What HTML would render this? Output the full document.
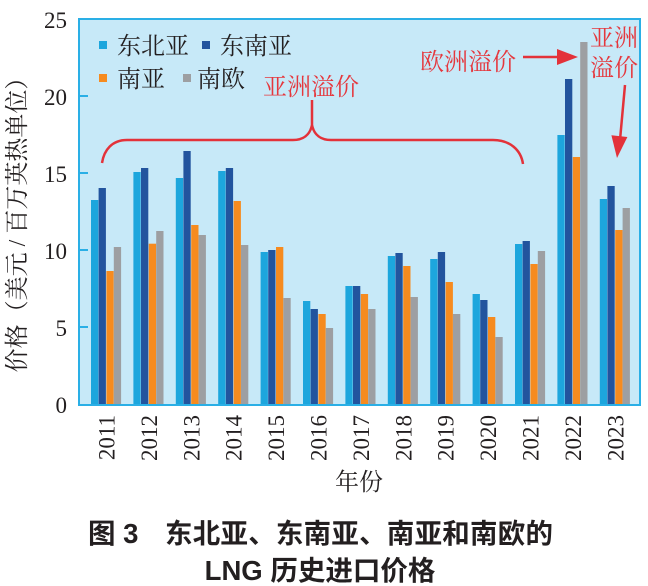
<!DOCTYPE html>
<html><head><meta charset="utf-8"><style>
html,body{margin:0;padding:0;background:#fff;}
svg{display:block;}
.s{font-family:"Liberation Serif","Noto Serif CJK SC","DejaVu Serif",serif;fill:#231f20;}
.r{font-family:"Liberation Serif","Noto Serif CJK SC","DejaVu Serif",serif;fill:#e5373d;font-size:24px;}
.c{font-family:"Liberation Sans","Noto Sans CJK SC",sans-serif;font-weight:bold;fill:#231f20;font-size:27.5px;}
</style></head><body>
<svg width="648" height="586" viewBox="0 0 648 586" xmlns="http://www.w3.org/2000/svg">
<rect x="79" y="19" width="561" height="386" fill="#c7e9f8"/>
<g id="bars">
<g transform="translate(91,0)"><rect x="0" y="200" width="7.3" height="205" fill="#1da6dd"/><rect x="7.6" y="188" width="7.3" height="217" fill="#22549e"/><rect x="15.4" y="271" width="7.3" height="134" fill="#f68b1f"/><rect x="22.8" y="247" width="7.3" height="158" fill="#9d9fa2"/></g>
<g transform="translate(133.4,0)"><rect x="0" y="172" width="7.3" height="233" fill="#1da6dd"/><rect x="7.6" y="168" width="7.3" height="237" fill="#22549e"/><rect x="15.4" y="243.7" width="7.3" height="161.3" fill="#f68b1f"/><rect x="22.8" y="231" width="7.3" height="174" fill="#9d9fa2"/></g>
<g transform="translate(175.8,0)"><rect x="0" y="178" width="7.3" height="227" fill="#1da6dd"/><rect x="7.6" y="151" width="7.3" height="254" fill="#22549e"/><rect x="15.4" y="225" width="7.3" height="180" fill="#f68b1f"/><rect x="22.8" y="235" width="7.3" height="170" fill="#9d9fa2"/></g>
<g transform="translate(218.2,0)"><rect x="0" y="171" width="7.3" height="234" fill="#1da6dd"/><rect x="7.6" y="168" width="7.3" height="237" fill="#22549e"/><rect x="15.4" y="201" width="7.3" height="204" fill="#f68b1f"/><rect x="22.8" y="245" width="7.3" height="160" fill="#9d9fa2"/></g>
<g transform="translate(260.6,0)"><rect x="0" y="252" width="7.3" height="153" fill="#1da6dd"/><rect x="7.6" y="250" width="7.3" height="155" fill="#22549e"/><rect x="15.4" y="247" width="7.3" height="158" fill="#f68b1f"/><rect x="22.8" y="298" width="7.3" height="107" fill="#9d9fa2"/></g>
<g transform="translate(303,0)"><rect x="0" y="301" width="7.3" height="104" fill="#1da6dd"/><rect x="7.6" y="309" width="7.3" height="96" fill="#22549e"/><rect x="15.4" y="314" width="7.3" height="91" fill="#f68b1f"/><rect x="22.8" y="328" width="7.3" height="77" fill="#9d9fa2"/></g>
<g transform="translate(345.4,0)"><rect x="0" y="286" width="7.3" height="119" fill="#1da6dd"/><rect x="7.6" y="286" width="7.3" height="119" fill="#22549e"/><rect x="15.4" y="294" width="7.3" height="111" fill="#f68b1f"/><rect x="22.8" y="309" width="7.3" height="96" fill="#9d9fa2"/></g>
<g transform="translate(387.8,0)"><rect x="0" y="256" width="7.3" height="149" fill="#1da6dd"/><rect x="7.6" y="253" width="7.3" height="152" fill="#22549e"/><rect x="15.4" y="266" width="7.3" height="139" fill="#f68b1f"/><rect x="22.8" y="297" width="7.3" height="108" fill="#9d9fa2"/></g>
<g transform="translate(430.2,0)"><rect x="0" y="259" width="7.3" height="146" fill="#1da6dd"/><rect x="7.6" y="252" width="7.3" height="153" fill="#22549e"/><rect x="15.4" y="282" width="7.3" height="123" fill="#f68b1f"/><rect x="22.8" y="314" width="7.3" height="91" fill="#9d9fa2"/></g>
<g transform="translate(472.6,0)"><rect x="0" y="294" width="7.3" height="111" fill="#1da6dd"/><rect x="7.6" y="300" width="7.3" height="105" fill="#22549e"/><rect x="15.4" y="317" width="7.3" height="88" fill="#f68b1f"/><rect x="22.8" y="337" width="7.3" height="68" fill="#9d9fa2"/></g>
<g transform="translate(515,0)"><rect x="0" y="244" width="7.3" height="161" fill="#1da6dd"/><rect x="7.6" y="241" width="7.3" height="164" fill="#22549e"/><rect x="15.4" y="264" width="7.3" height="141" fill="#f68b1f"/><rect x="22.8" y="251" width="7.3" height="154" fill="#9d9fa2"/></g>
<g transform="translate(557.4,0)"><rect x="0" y="135" width="7.3" height="270" fill="#1da6dd"/><rect x="7.6" y="79" width="7.3" height="326" fill="#22549e"/><rect x="15.4" y="157" width="7.3" height="248" fill="#f68b1f"/><rect x="22.8" y="42" width="7.3" height="363" fill="#9d9fa2"/></g>
<g transform="translate(599.8,0)"><rect x="0" y="199" width="7.3" height="206" fill="#1da6dd"/><rect x="7.6" y="186" width="7.3" height="219" fill="#22549e"/><rect x="15.4" y="230" width="7.3" height="175" fill="#f68b1f"/><rect x="22.8" y="208" width="7.3" height="197" fill="#9d9fa2"/></g>
</g>
<rect x="79" y="19" width="561" height="386" fill="none" stroke="#2aafe6" stroke-width="2"/>
<g stroke="#2aafe6" stroke-width="2">
<line x1="79" y1="327" x2="88" y2="327"/><line x1="79" y1="250" x2="88" y2="250"/><line x1="79" y1="173" x2="88" y2="173"/><line x1="79" y1="96" x2="88" y2="96"/>
</g>
<g class="s" font-family="Liberation Serif, Noto Serif CJK SC, DejaVu Serif, serif" font-size="23" text-anchor="end">
<text x="67" y="413">0</text><text x="67" y="336">5</text><text x="67" y="259">10</text><text x="67" y="182">15</text><text x="67" y="105">20</text><text x="67" y="28">25</text>
</g>
<g class="s" font-family="Liberation Serif, Noto Serif CJK SC, DejaVu Serif, serif" font-size="23" text-anchor="end">
<text transform="translate(114.5,415) rotate(-90)">2011</text>
<text transform="translate(156.9,415) rotate(-90)">2012</text>
<text transform="translate(199.3,415) rotate(-90)">2013</text>
<text transform="translate(241.7,415) rotate(-90)">2014</text>
<text transform="translate(284.1,415) rotate(-90)">2015</text>
<text transform="translate(326.5,415) rotate(-90)">2016</text>
<text transform="translate(368.9,415) rotate(-90)">2017</text>
<text transform="translate(411.3,415) rotate(-90)">2018</text>
<text transform="translate(453.7,415) rotate(-90)">2019</text>
<text transform="translate(496.1,415) rotate(-90)">2020</text>
<text transform="translate(538.5,415) rotate(-90)">2021</text>
<text transform="translate(580.9,415) rotate(-90)">2022</text>
<text transform="translate(623.3,415) rotate(-90)">2023</text>
</g>
<text class="s" font-size="24" text-anchor="middle" transform="translate(25,219) rotate(-90)">价格（美元 / 百万英热单位）</text>
<text class="s" font-size="24" x="335" y="490">年份</text>
<rect x="99" y="41" width="8" height="8" fill="#1da6dd"/>
<text class="s" font-size="24" x="117" y="54">东北亚</text>
<rect x="202" y="41" width="8" height="8" fill="#22549e"/>
<text class="s" font-size="24" x="220" y="54">东南亚</text>
<rect x="99" y="74" width="8" height="8" fill="#f68b1f"/>
<text class="s" font-size="24" x="117" y="87">南亚</text>
<rect x="183" y="74" width="8" height="8" fill="#9d9fa2"/>
<text class="s" font-size="24" x="197" y="87">南欧</text>
<path d="M102,163 C104,150 112,140 127,140 L293,140 C303,140 310,135 312,125 M312,100 L312,125 C314,135 321,140 331,140 L493,140 C510,140 521,150 523,164" fill="none" stroke="#e3323a" stroke-width="2.5"/>
<text class="r" x="263" y="95">亚洲溢价</text>
<text class="r" x="420" y="70">欧洲溢价</text>
<line x1="523" y1="57" x2="560" y2="57" stroke="#e3323a" stroke-width="2.5"/>
<polygon points="557,49 578,57 557,65" fill="#e3323a"/>
<text class="r" x="590" y="46">亚洲</text>
<text class="r" x="590" y="76">溢价</text>
<line x1="625" y1="85" x2="620" y2="140" stroke="#e3323a" stroke-width="2.5"/>
<polygon points="627.4,137 617,158 611.4,135.2" fill="#e3323a"/>
<text class="c" x="88" y="543">图 3</text>
<text class="c" x="165" y="543" textLength="388" lengthAdjust="spacing">东北亚、东南亚、南亚和南欧的</text>
<text class="c" x="320" y="580" text-anchor="middle">LNG 历史进口价格</text>
</svg>
</body></html>
